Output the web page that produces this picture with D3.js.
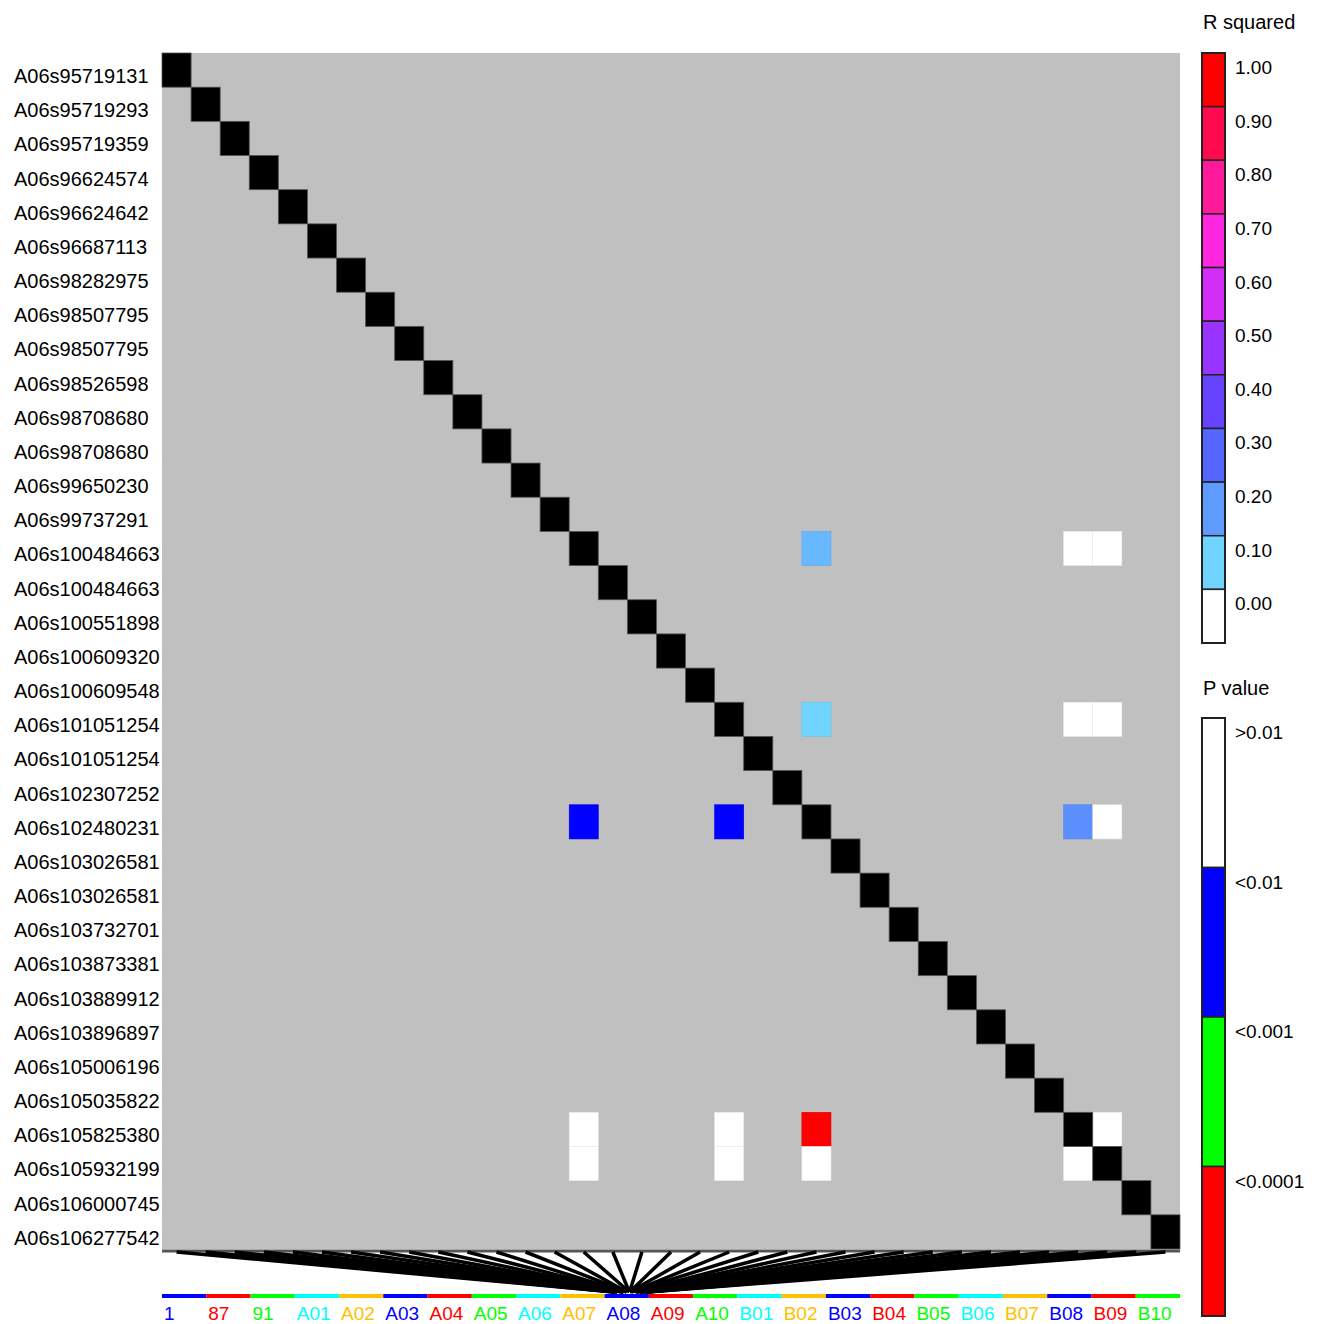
<!DOCTYPE html>
<html>
<head>
<meta charset="utf-8">
<script src="https://cdn.jsdelivr.net/npm/d3@7"></script>
<style>
  body { margin: 0; background: #fff; }
  text { font-family: "Liberation Sans", Arial, sans-serif; }
</style>
</head>
<body>
<div id="ld"></div>
<script>
// marker names (rows and columns of the LD matrix)
var markers = [
  "A06s95719131", "A06s95719293", "A06s95719359", "A06s96624574", "A06s96624642",
  "A06s96687113", "A06s98282975", "A06s98507795", "A06s98507795", "A06s98526598",
  "A06s98708680", "A06s98708680", "A06s99650230", "A06s99737291", "A06s100484663",
  "A06s100484663", "A06s100551898", "A06s100609320", "A06s100609548", "A06s101051254",
  "A06s101051254", "A06s102307252", "A06s102480231", "A06s103026581", "A06s103026581",
  "A06s103732701", "A06s103873381", "A06s103889912", "A06s103896897", "A06s105006196",
  "A06s105035822", "A06s105825380", "A06s105932199", "A06s106000745", "A06s106277542"
];

// tested marker pairs (index of first, index of second), r squared and p value class
var pairFirst  = [14, 14, 14, 19, 19, 19, 22, 22, 31];
var pairSecond = [22, 31, 32, 22, 31, 32, 31, 32, 32];
var r2Values   = [0.15, 0.0, 0.0, 0.10, 0.0, 0.0, 0.22, 0.0, 0.0];
var pValues    = ["<0.01", ">0.01", ">0.01", "<0.01", ">0.01", ">0.01", "<0.0001", ">0.01", ">0.01"];

// legends
var r2Ticks  = [1.0, 0.9, 0.8, 0.7, 0.6, 0.5, 0.4, 0.3, 0.2, 0.1, 0.0];
var r2Colors = ["#ff0000", "#ff0a4c", "#ff1a99", "#ff26e0", "#d22ef8", "#9933ff",
                "#6644ff", "#5566ff", "#5f9bff", "#70d4ff", "#ffffff"];
var pLabels  = [">0.01", "<0.01", "<0.001", "<0.0001"];
var pColors  = ["#ffffff", "#0000ff", "#00ff00", "#ff0000"];

// physical axis groups along the bottom
var groups = ["1", "87", "91", "A01", "A02", "A03", "A04", "A05", "A06", "A07", "A08",
              "A09", "A10", "B01", "B02", "B03", "B04", "B05", "B06", "B07", "B08", "B09", "B10"];
var groupColors = ["#0000ff", "#ff0000", "#00ff00", "#00ffff", "#ffc000"];

var W = 1323, H = 1324;
var gx0 = 162, gx1 = 1180, gy0 = 53, gy1 = 1249;

var svg = d3.select("#ld").append("svg").attr("width", W).attr("height", H);

var x = d3.scaleBand().domain(d3.range(markers.length)).range([gx0, gx1]);
var y = d3.scaleBand().domain(d3.range(markers.length)).range([gy0, gy1]);

var r2Color = d3.scaleLinear().domain(r2Ticks).range(r2Colors);
var pColor = d3.scaleOrdinal().domain(pLabels).range(pColors);

// background
svg.append("rect")
  .attr("x", gx0).attr("y", gy0)
  .attr("width", gx1 - gx0).attr("height", gy1 - gy0)
  .attr("fill", "#c0c0c0");

// upper triangle: r squared, lower triangle: p value
var cells = [];
pairFirst.forEach(function(a, k) {
  var b = pairSecond[k];
  cells.push({ row: a, col: b, fill: r2Color(r2Values[k]) });
  cells.push({ row: b, col: a, fill: pColor(pValues[k]) });
});

svg.append("g").selectAll("rect").data(cells).join("rect")
  .attr("x", d => x(d.col)).attr("y", d => y(d.row))
  .attr("width", x.bandwidth()).attr("height", y.bandwidth())
  .attr("fill", d => d.fill)
  .attr("stroke", d => d3.color(d.fill).darker(0.25))
  .attr("stroke-width", 0.6);

svg.append("g").selectAll("rect").data(d3.range(markers.length)).join("rect")
  .attr("x", d => x(d)).attr("y", d => y(d))
  .attr("width", x.bandwidth()).attr("height", y.bandwidth())
  .attr("fill", "#000")
  .attr("stroke", "#555")
  .attr("stroke-width", 0.8);

// row labels
svg.append("g").selectAll("text").data(markers).join("text")
  .attr("x", 14)
  .attr("y", (d, i) => y(i) + 30)
  .attr("font-size", 20)
  .attr("fill", "#000")
  .text(d => d);

// physical position of each marker, taken from its name
var positions = markers.map(m => +m.split("s")[1]);
var phys = d3.scaleLinear().domain(d3.extent(positions)).range([614, 648]);

var axisY = 1294;

svg.append("line")
  .attr("x1", gx0).attr("x2", gx1)
  .attr("y1", gy1 + 2).attr("y2", gy1 + 2)
  .attr("stroke", "#555").attr("stroke-width", 3);

// fan: each marker column linked to its physical position
svg.append("g").selectAll("line").data(positions).join("line")
  .attr("x1", (d, i) => x(i) + x.bandwidth() / 2)
  .attr("y1", gy1 + 3)
  .attr("x2", d => phys(d))
  .attr("y2", axisY - 2)
  .attr("stroke", "#000")
  .attr("stroke-width", 3.5);

// group bar and labels
var gband = d3.scaleBand().domain(groups).range([gx0, gx1]);

svg.append("g").selectAll("rect").data(groups).join("rect")
  .attr("x", d => gband(d)).attr("y", axisY)
  .attr("width", gband.bandwidth()).attr("height", 4)
  .attr("fill", (d, i) => groupColors[i % groupColors.length]);

svg.append("g").selectAll("text").data(groups).join("text")
  .attr("x", d => gband(d) + 2)
  .attr("y", 1320)
  .attr("font-size", 19)
  .attr("fill", (d, i) => groupColors[i % groupColors.length])
  .text(d => d);

// R squared legend
var lx = 1202, lw = 23;
var r2Scale = d3.scaleBand().domain(r2Ticks).range([53, 643]);

svg.append("text").attr("x", 1203).attr("y", 29).attr("font-size", 20).text("R squared");

svg.append("g").selectAll("rect").data(r2Ticks).join("rect")
  .attr("x", lx).attr("y", d => r2Scale(d))
  .attr("width", lw).attr("height", r2Scale.bandwidth())
  .attr("fill", d => r2Color(d))
  .attr("stroke", "#222").attr("stroke-width", 1.5);

svg.append("rect")
  .attr("x", lx).attr("y", 53).attr("width", lw).attr("height", 590)
  .attr("fill", "none").attr("stroke", "#222").attr("stroke-width", 2);

svg.append("g").selectAll("text").data(r2Ticks).join("text")
  .attr("x", 1235).attr("y", d => r2Scale(d) + 21)
  .attr("font-size", 19)
  .text(d => d3.format(".2f")(d));

// P value legend
var pScale = d3.scaleBand().domain(pLabels).range([718, 1316]);

svg.append("text").attr("x", 1203).attr("y", 695).attr("font-size", 20).text("P value");

svg.append("g").selectAll("rect").data(pLabels).join("rect")
  .attr("x", lx).attr("y", d => pScale(d))
  .attr("width", lw).attr("height", pScale.bandwidth())
  .attr("fill", d => pColor(d))
  .attr("stroke", "#222").attr("stroke-width", 1.5);

svg.append("rect")
  .attr("x", lx).attr("y", 718).attr("width", lw).attr("height", 598)
  .attr("fill", "none").attr("stroke", "#222").attr("stroke-width", 2);

svg.append("g").selectAll("text").data(pLabels).join("text")
  .attr("x", 1235).attr("y", d => pScale(d) + 21)
  .attr("font-size", 19)
  .text(d => d);
</script>
</body>
</html>
